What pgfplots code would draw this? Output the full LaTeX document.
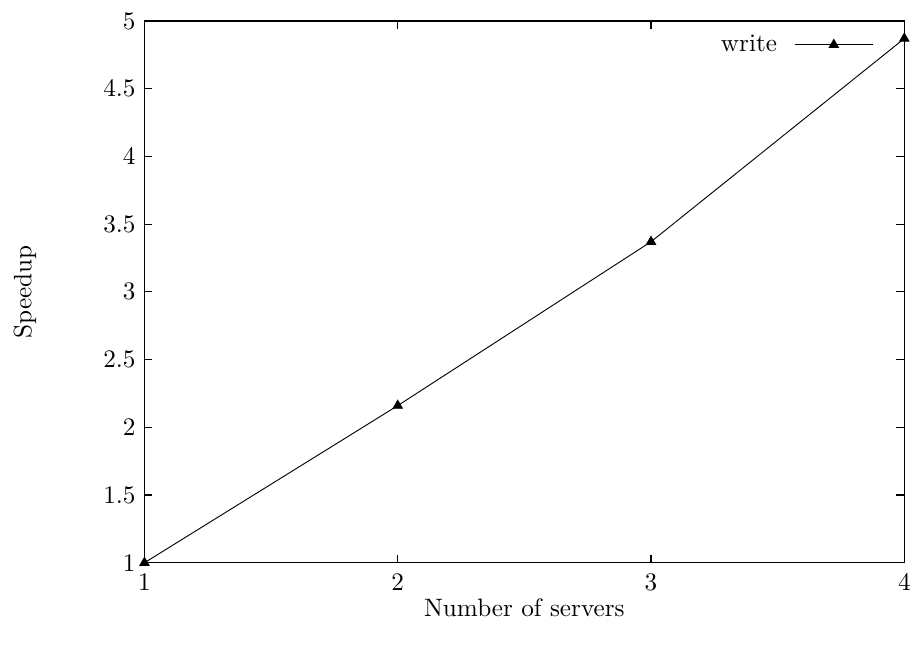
\documentclass[11pt,border=0pt]{standalone}
\usepackage{pgfplots}
\pgfplotsset{compat=1.18}
\usetikzlibrary{calc}
\begin{document}
\begin{tikzpicture}
\begin{axis}[
  name=ax,
  scale only axis,
  width=330.4pt, height=235.6pt,
  xmin=1, xmax=4, ymin=1, ymax=5,
  xtick={1,2,3,4},
  ytick={1,1.5,2,2.5,3,3.5,4,4.5,5},
  yticklabels={1,1.5,2,2.5,3,3.5,4,4.5,5},
  tick align=inside,
  major tick length=3.5pt,
  tick style={black, line width=0.5pt},
  axis line style={line width=0.6pt},
  xlabel={Number of servers},
  ylabel={Speedup},
  xlabel style={at={(rel axis cs:0.5,0)}, anchor=center, yshift=-19.6pt},
  ylabel style={at={(rel axis cs:0,0.5)}, anchor=center, rotate=0, yshift=52pt},
  xticklabel style={yshift=-1pt},
  legend style={draw=none, fill=none, at={(rel axis cs:0.969,0.956)}, anchor=east, column sep=5.5pt},
  legend plot pos=right,
  legend cell align=right,
  legend image code/.code={\draw[mark repeat=2,mark phase=2,#1] plot coordinates {(0pt,0pt)(17pt,0pt)(34pt,0pt)};},
]
\addplot[black, line width=0.4pt, mark=triangle*, mark size=2.3pt, mark options={solid}] coordinates {
  (1,1.00) (2,2.16) (3,3.37) (4,4.87)
};
\addlegendentry{write}
\end{axis}
\useasboundingbox ($(ax.south west)+(-62.8pt,-37.7pt)$) rectangle ($(ax.north east)+(4.8pt,9.1pt)$);
\end{tikzpicture}
\end{document}
